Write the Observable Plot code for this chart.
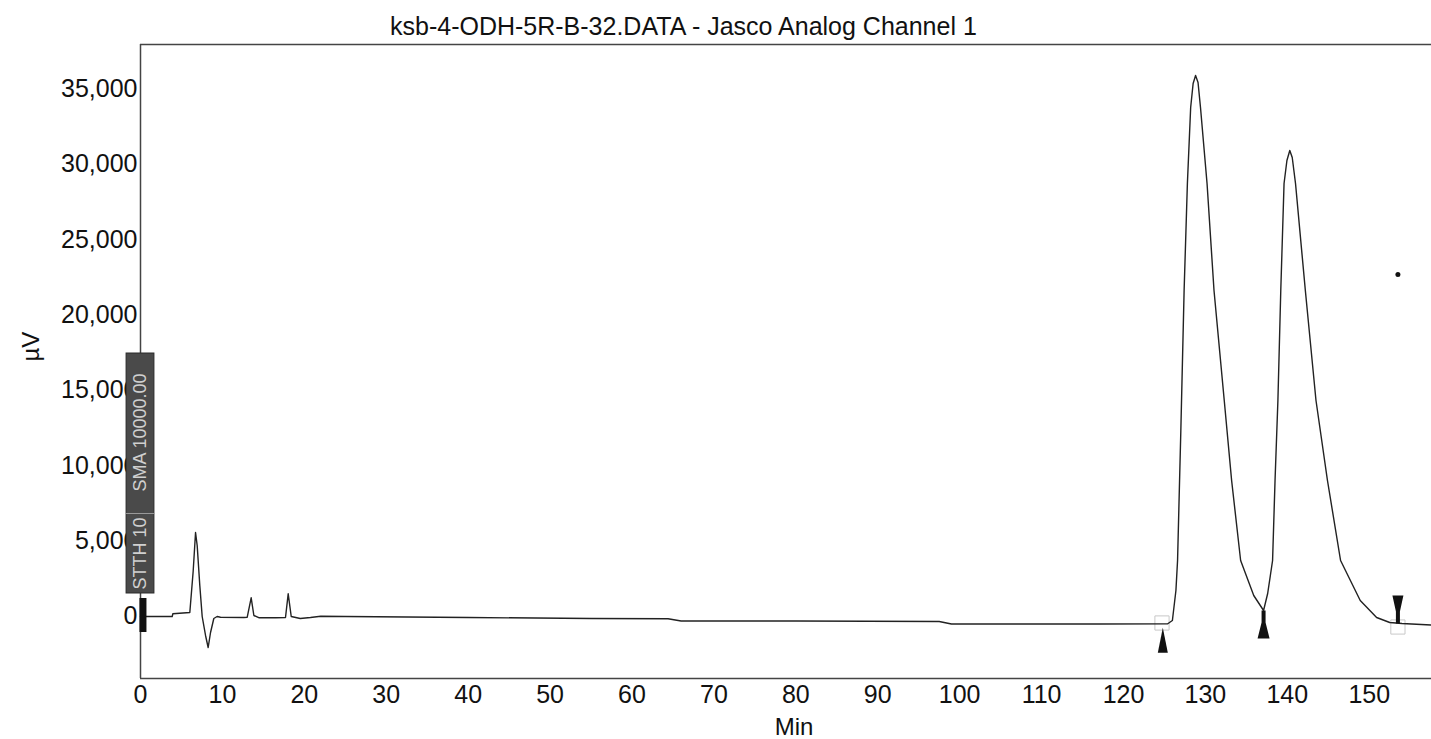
<!DOCTYPE html>
<html><head><meta charset="utf-8">
<script src="https://cdn.jsdelivr.net/npm/d3@7"></script>
<script src="https://cdn.jsdelivr.net/npm/@observablehq/plot@0.6"></script>
<style>
body{margin:0;background:#fff;font-family:"Liberation Sans",Arial,sans-serif;}
#title{position:relative;height:40px;width:1431px;}
#title span{position:absolute;left:390px;top:14px;font-size:25px;line-height:1;color:#111;white-space:nowrap;}
</style></head><body>
<div id="title"><span>ksb-4-ODH-5R-B-32.DATA - Jasco Analog Channel 1</span></div>
<div id="chart"></div>
<script>
// Chromatogram trace: retention time (min) and detector signal (µV)
const timeMin = [
  0, 3.87, 3.95, 6.02, 6.43, 6.72, 6.92, 7.24, 7.53, 7.94, 8.26, 8.55, 8.95, 9.35, 9.77,
  12.6, 13.03, 13.51, 13.84, 14.5, 16.5, 17.7, 18.03, 18.4, 19.5, 20.75, 22,
  25, 40, 55, 64.4, 66, 80, 97.5, 99, 117, 125.4,
  125.97, 126.4, 126.6, 127.0, 127.4, 127.8, 128.2, 128.5, 128.8, 129.1, 129.4, 130.2, 131.05,
  132.3, 133.2, 134.3, 135.9, 137.1,
  137.6, 138.2, 138.5, 138.85, 139.2, 139.6, 139.95, 140.3, 140.6, 141.0, 142.2, 143.5, 144.9,
  146.5, 148.9, 150.9, 152.5, 154.0, 157.6
];
const signalUV = [
  0, 0, 180, 265, 3000, 5573, 4711, 2057, 0, -1260, -2057, -1062, -133, 0, -46,
  -66, -46, 1240, 66, -86, -86, -66, 1506, 0, -133, -66, 20,
  0, -66, -133, -153, -300, -300, -330, -500, -500, -484,
  -265, 1725, 3716, 12341, 21630, 28730, 33770, 35365, 35895, 35430, 33770, 28730, 21630,
  14332, 9024, 3716, 1393, 398,
  1526, 3716, 9024, 14332, 21630, 28730, 30256, 30920, 30455, 28730, 21630, 14332, 9024,
  3716, 1062, -66, -398, -464, -564
];
const xTicks = [0, 10, 20, 30, 40, 50, 60, 70, 80, 90, 100, 110, 120, 130, 140, 150];
const yTicks = [0, 5000, 10000, 15000, 20000, 25000, 30000, 35000];
// Integration event markers
const peakStartMarker = [{t: 124.8, v: -484}];
const valleyMarker = [{t: 137.1, v: 398}];
const peakEndMarker = [{t: 153.5, v: -464}];
const baselineBoxes = [{t: 124.7, v: -431}, {t: 153.5, v: -697}];
const startBar = [{t: 0.3, v1: 1194, v2: -1062}];
const strayDot = [{t: 153.5, v: 22690}];
// Left annotation box (STTH / SMA settings)
const annotationBox = [{t1: -1.7, t2: 1.7, v1: 1526, v2: 17450}];
const annotationDivider = [{t1: -1.7, t2: 1.7, v: 6834}];
const annotationLabels = [{t: 0, v: 12208, label: "SMA 10000.00"}, {t: 0, v: 4180, label: "STTH 10"}];

const trace = timeMin.map((t, i) => ({t, v: signalUV[i]}));
const xDomain = [0, 157.6];
const yDomain = [-4114, 37953];

const triTall = {draw(c){ c.moveTo(0,4); c.lineTo(5,29); c.lineTo(-5,29); c.closePath(); }};
const stemUp = {draw(c){ c.moveTo(-2,0); c.lineTo(2,0); c.lineTo(2,12); c.lineTo(6,28); c.lineTo(-6,28); c.lineTo(-2,12); c.closePath(); }};
const stemDown = {draw(c){ c.moveTo(-2,0); c.lineTo(2,0); c.lineTo(2,-12); c.lineTo(5.5,-28); c.lineTo(-5.5,-28); c.lineTo(-2,-12); c.closePath(); }};

const chart = Plot.plot({
  width: 1431,
  height: 699,
  marginTop: 4,
  marginBottom: 61,
  marginLeft: 140,
  marginRight: 0,
  style: {fontSize: "25px", fontFamily: "'Liberation Sans', Arial, sans-serif", color: "#111", background: "white"},
  x: {domain: xDomain},
  y: {domain: yDomain},
  marks: [
    Plot.axisX({ticks: xTicks, tickSize: 0, tickPadding: 7, label: null}),
    Plot.axisY({ticks: yTicks, tickSize: 0, tickPadding: 3, tickFormat: d3.format(","), label: null}),
    Plot.ruleY([yDomain[1]], {stroke: "#444", strokeWidth: 1.5}),
    Plot.ruleY([yDomain[0]], {stroke: "#444", strokeWidth: 1.5}),
    Plot.ruleX([xDomain[0]], {stroke: "#444", strokeWidth: 1.5}),
    Plot.dot(baselineBoxes, {x: "t", y: "v", symbol: "square", r: 8, stroke: "#c8c8c8", fill: "none", strokeWidth: 1}),
    Plot.line(trace, {x: "t", y: "v", stroke: "#222", strokeWidth: 1.4, curve: "linear"}),
    Plot.dot(peakStartMarker, {x: "t", y: "v", symbol: triTall, fill: "#111", stroke: "none", r: 5}),
    Plot.dot(valleyMarker, {x: "t", y: "v", symbol: stemUp, fill: "#111", stroke: "none", r: 5}),
    Plot.dot(peakEndMarker, {x: "t", y: "v", symbol: stemDown, fill: "#111", stroke: "none", r: 5}),
    Plot.dot(strayDot, {x: "t", y: "v", r: 2.5, fill: "#111", stroke: "none"}),
    Plot.ruleX(startBar, {x: "t", y1: "v1", y2: "v2", stroke: "#111", strokeWidth: 7}),
    Plot.rect(annotationBox, {x1: "t1", x2: "t2", y1: "v1", y2: "v2", fill: "#4a4a4a", stroke: "#2a2a2a", strokeWidth: 1}),
    Plot.ruleY(annotationDivider, {x1: "t1", x2: "t2", y: "v", stroke: "#999", strokeWidth: 1}),
    Plot.text(annotationLabels, {x: "t", y: "v", text: "label", rotate: -90, fill: "#d0d0d0", fontSize: 18}),
    Plot.text(["µV"], {frameAnchor: "left", dx: -109, rotate: -90, text: d => d, fontSize: 24, fill: "#111"}),
    Plot.text(["Min"], {frameAnchor: "bottom", lineAnchor: "middle", dx: 8, dy: 49, text: d => d, fontSize: 24, fill: "#111"})
  ]
});
document.getElementById("chart").appendChild(chart);
</script>
</body></html>
